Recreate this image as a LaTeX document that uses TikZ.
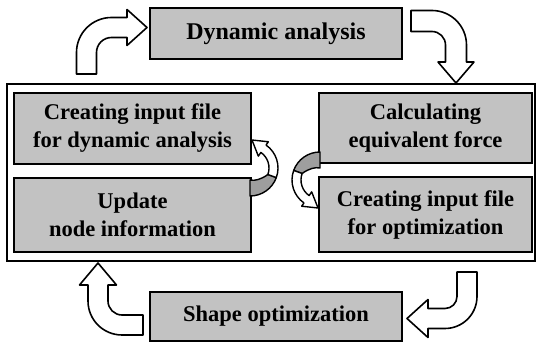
\documentclass[tikz,border=0pt]{standalone}
\usepackage{fontspec}
\setmainfont{Liberation Serif}[BoldFont={Liberation Serif Bold}]
\begin{document}
\begin{tikzpicture}[x=1pt,y=-1pt,
  box/.style={draw=black, line width=1.8pt, fill=black!24, align=center, inner sep=0pt,
    font=\fontsize{22.5}{28}\selectfont\bfseries},
  frame/.style={draw=black, line width=1.5pt, inner sep=0pt},
  blockarrow/.style={draw=black, line width=1.6pt, fill=white, line join=round},
  ribbonback/.style={draw=black, line width=1.4pt, fill=black!38, line join=round},
  ribbonfront/.style={draw=black, line width=1.4pt, fill=white, line join=round}
]
\useasboundingbox (0,0) rectangle (536,344);

% outer frame
\node[frame, minimum width=528pt, minimum height=177pt] (frame) at (271,172.5) {};

% boxes
\node[box, minimum width=252pt, minimum height=51pt, font=\fontsize{24}{28}\selectfont\bfseries] (dyn) at (276,33.5) {Dynamic analysis};
\node[box, minimum width=237pt, minimum height=71pt] (cif) at (132.5,128.5) {Creating input file\\for dynamic analysis};
\node[box, minimum width=237pt, minimum height=74pt] (upd) at (132.5,215) {Update\\node information};
\node[box, minimum width=213pt, minimum height=70pt] (calc) at (425.5,128) {Calculating\\equivalent force};
\node[box, minimum width=213pt, minimum height=75pt] (cio) at (425.5,214.5) {Creating input file\\for optimization};
\node[box, minimum width=252pt, minimum height=49pt] (shp) at (276,316.5) {Shape optimization};

% top-left block arrow (frame -> dyn)
\draw[blockarrow] (76.5,74) -- (76.5,52.5) arc[start angle=180, end angle=270, radius=35]
  -- (127,17.5) -- (127,9.5) -- (147,27.5) -- (127,45.5) -- (127,37.5) -- (111.5,37.5)
  arc[start angle=270, end angle=180, radius=15] -- (96.5,74) -- cycle;

% top-right block arrow (dyn -> frame)
\draw[blockarrow] (411,10.5) -- (432,10.5) arc[start angle=270, end angle=360, radius=34.5]
  -- (466.5,62) -- (474,62) -- (456,83) -- (438,62) -- (445.5,62) -- (445.5,45)
  arc[start angle=0, end angle=-90, radius=13.5] -- (411,31.5) -- cycle;

% bottom-right block arrow (frame -> shp)
\draw[blockarrow] (477,272) -- (477,296.5) arc[start angle=0, end angle=90, radius=32]
  -- (428,328.5) -- (428,337.5) -- (407,318.5) -- (428,299.5) -- (428,308.5) -- (445,308.5)
  arc[start angle=90, end angle=0, radius=12] -- (457,272) -- cycle;

% bottom-left block arrow (shp -> frame)
\draw[blockarrow] (143,335) -- (122,335) arc[start angle=90, end angle=180, radius=34]
  -- (88,285) -- (79.5,285) -- (98,263) -- (116.5,285) -- (108,285) -- (108,301)
  arc[start angle=180, end angle=90, radius=14] -- (143,315) -- cycle;

% middle ribbon arrows (upd -> cif, calc -> cio)
\begin{scope}[shift={(250,168)}]
  \draw[ribbonback] (90:28) arc[start angle=90, end angle=20, radius=28]
    -- (20:19) .. controls (45:16) and (70:14) .. (90:12) -- cycle;
  \draw[ribbonfront] (20:28) arc[start angle=20, end angle=-55, radius=28]
    -- (-55:32) -- (2.0,-28.0) -- (-55:14.5)
    -- (-55:19) arc[start angle=-55, end angle=20, radius=19] -- cycle;
\end{scope}
\begin{scope}[shift={(320,180)}, rotate=180]
  \draw[ribbonback] (90:28) arc[start angle=90, end angle=20, radius=28]
    -- (20:19) .. controls (45:16) and (70:14) .. (90:12) -- cycle;
  \draw[ribbonfront] (20:28) arc[start angle=20, end angle=-55, radius=28]
    -- (-55:32) -- (2.0,-28.0) -- (-55:14.5)
    -- (-55:19) arc[start angle=-55, end angle=20, radius=19] -- cycle;
\end{scope}
\end{tikzpicture}
\end{document}
